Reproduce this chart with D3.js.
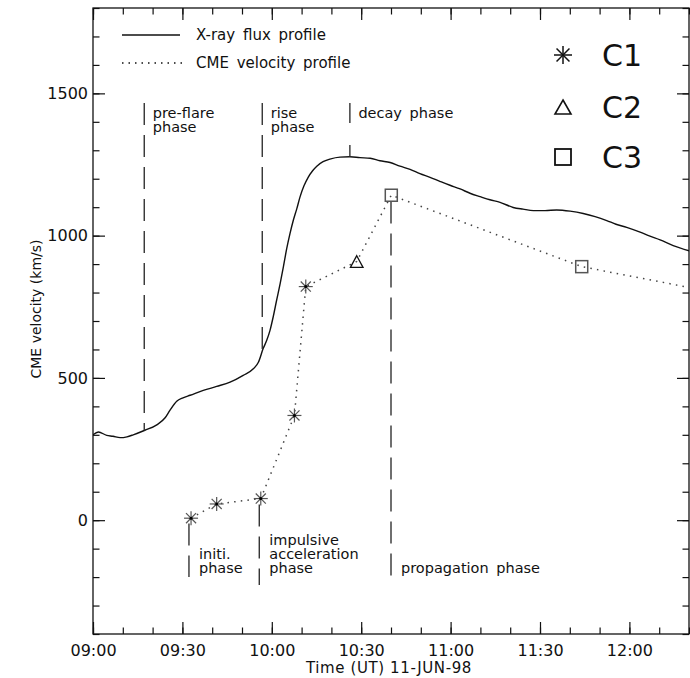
<!DOCTYPE html>
<html>
<head>
<meta charset="utf-8">
<script src="https://cdn.jsdelivr.net/npm/d3@7"></script>
<style>
  html, body { margin: 0; padding: 0; background: #fff; }
  svg { display: block; font-family: "DejaVu Sans", sans-serif; }
</style>
</head>
<body>
<svg id="chart" width="690" height="678"></svg>
<script>
// ---- data ----------------------------------------------------------------
// GOES X-ray flux profile, scaled onto the velocity axis (minutes after 09:00 UT)
const fluxMinutes = [0, 1.8, 4.6, 6.7, 9.1, 11.4, 13.5, 17.4, 21.4, 24.2,
  25.8, 28.1, 30.2, 32.6, 37.0, 41.5, 46.0, 50.4, 53.8, 55.5,
  57.1, 58.3, 59.4, 60.5, 61.6, 62.8, 63.9, 65.0, 66.1, 67.2,
  68.4, 69.5, 70.8, 72.2, 73.7, 75.1, 77.2, 79.5, 82.9, 86.2,
  89.6, 93.0, 96.3, 99.7, 103.0, 106.4, 109.7, 113.1, 116.4, 119.8,
  123.2, 126.5, 129.9, 133.2, 136.6, 141.0, 144.3, 147.8, 151.7, 155.6,
  160.1, 164.5, 168.5, 172.4, 175.5, 179.1, 183.6, 186.9, 190.3, 194.7, 200.2];
const fluxValues = [300, 310, 298, 295, 290, 293, 300, 316, 335, 360,
  386, 418, 430, 439, 456, 470, 485, 509, 532, 555,
  603, 632, 667, 716, 772, 831, 891, 954, 1007, 1053,
  1095, 1137, 1175, 1205, 1228, 1244, 1260, 1269, 1276, 1277,
  1274, 1272, 1263, 1257, 1244, 1233, 1218, 1205, 1191, 1177,
  1164, 1149, 1137, 1126, 1117, 1099, 1093, 1088, 1088, 1090,
  1086, 1078, 1067, 1053, 1040, 1029, 1012, 998, 985, 965, 946];

// CME front velocities (km/s) measured in C1, C2 and C3
const c1Times  = ["09:32:54", "09:41:30", "09:56:18", "10:07:36", "10:11:24"];
const c1Values = [7, 57, 76, 368, 821];
const c2Times  = ["10:28:30"];
const c2Values = [909];
const c3Times  = ["10:40:06", "11:44:00"];
const c3Values = [1142, 891];
// the velocity profile runs on to the end of the time window
const profileEndTime  = "12:20:00";
const profileEndValue = 818;

// axes
const timeStart = "09:00:00";
const timeEnd   = "12:20:00";
const yDomain   = [-400, 1800];
const yMajor    = [0, 500, 1000, 1500];

// flare phases (above the curve) and CME phases (below)
const flarePhaseTimes  = ["09:17:12", "09:56:48", "10:26:12"];
const flarePhaseLabels = [["pre-flare", "phase"], ["rise", "phase"], ["decay phase"]];
const cmePhaseTimes    = ["09:32:12", "09:55:48", "10:40:00"];
const cmePhaseLabels   = [["initi.", "phase"], ["impulsive", "acceleration", "phase"], ["propagation phase"]];
const cmePhaseFrom     = [-12, 55, 1120];
const cmePhaseTo       = [-200, -228, -225];
const flarePhaseTop    = 1466;

const legendLines   = ["X-ray flux profile", "CME velocity profile"];
const legendSymbols = ["C1", "C2", "C3"];

// ---- setup ---------------------------------------------------------------
const svg = d3.select("#chart");
const W = 690, H = 678;
const m = { left: 93, right: 1, top: 8, bottom: 44 };
const x0 = m.left, x1 = W - m.right, y0 = m.top, y1 = H - m.bottom;

const parse = d3.utcParse("%Y-%m-%d %H:%M:%S");
const t = s => parse("1998-06-11 " + s);
const base = t(timeStart);
const fromMinutes = mm => new Date(base.getTime() + mm * 60000);

const x = d3.scaleUtc().domain([t(timeStart), t(timeEnd)]).range([x0, x1]);
const y = d3.scaleLinear().domain(yDomain).range([y1, y0]);

const ink = "#111";
const fontTick = 16, fontText = 14.5, lineGap = 14;

svg.append("defs").append("clipPath").attr("id", "plotclip")
  .append("rect").attr("x", x0).attr("y", y0).attr("width", x1 - x0).attr("height", y1 - y0);

// ---- axes (ticks point inward on all four sides) -------------------------
const majorT = d3.utcMinute.every(30), minorT = d3.utcMinute.every(10);
const fmt = d3.utcFormat("%H:%M");
const TL = 12, TS = 6.5;

function styleAxis(g) {
  g.select(".domain").remove();
  g.selectAll("line").attr("stroke", ink).attr("stroke-width", 1.2);
  g.selectAll("text").attr("fill", ink).attr("font-size", fontTick)
    .attr("font-family", '"DejaVu Sans", sans-serif');
}

const minorTimes = minorT.range(t(timeStart), new Date(t(timeEnd).getTime() + 1));
const minorVals = d3.range(yDomain[0], yDomain[1] + 1, 100);

// bottom
svg.append("g").attr("transform", `translate(0,${y1})`)
  .call(d3.axisBottom(x).ticks(majorT).tickFormat(fmt).tickSize(-TL).tickPadding(11))
  .call(styleAxis);
svg.append("g").attr("transform", `translate(0,${y1})`)
  .call(d3.axisBottom(x).tickValues(minorTimes).tickFormat("").tickSize(-TS))
  .call(styleAxis);
// top
svg.append("g").attr("transform", `translate(0,${y0})`)
  .call(d3.axisTop(x).ticks(majorT).tickFormat("").tickSize(-TL)).call(styleAxis);
svg.append("g").attr("transform", `translate(0,${y0})`)
  .call(d3.axisTop(x).tickValues(minorTimes).tickFormat("").tickSize(-TS)).call(styleAxis);
// left
svg.append("g").attr("transform", `translate(${x0},0)`)
  .call(d3.axisLeft(y).tickValues(yMajor).tickFormat(d3.format("d")).tickSize(-TL).tickPadding(5))
  .call(styleAxis);
svg.append("g").attr("transform", `translate(${x0},0)`)
  .call(d3.axisLeft(y).tickValues(minorVals).tickFormat("").tickSize(-TS)).call(styleAxis);
// right
svg.append("g").attr("transform", `translate(${x1},0)`)
  .call(d3.axisRight(y).tickValues(yMajor).tickFormat("").tickSize(-TL)).call(styleAxis);
svg.append("g").attr("transform", `translate(${x1},0)`)
  .call(d3.axisRight(y).tickValues(minorVals).tickFormat("").tickSize(-TS)).call(styleAxis);

// frame
svg.append("rect").attr("x", x0).attr("y", y0).attr("width", x1 - x0).attr("height", y1 - y0)
  .attr("fill", "none").attr("stroke", ink).attr("stroke-width", 1.3);

// axis titles
svg.append("text").attr("x", (x0 + x1) / 2 - 2).attr("y", 673).attr("text-anchor", "middle")
  .attr("font-size", 15).attr("letter-spacing", 0.6).attr("fill", ink).text("Time (UT) 11-JUN-98");
svg.append("text").attr("transform", `translate(41,${(y0 + y1) / 2 - 12}) rotate(-90)`)
  .attr("text-anchor", "middle").attr("font-size", 14).attr("fill", ink)
  .text("CME velocity (km/s)");

// ---- X-ray flux curve ----------------------------------------------------
const flux = fluxMinutes.map((mm, i) => ({ t: fromMinutes(mm), v: fluxValues[i] }));
const plot = svg.append("g").attr("clip-path", "url(#plotclip)");
plot.append("path").datum(flux)
  .attr("fill", "none").attr("stroke", ink).attr("stroke-width", 1.4)
  .attr("d", d3.line().x(d => x(d.t)).y(d => y(d.v)).curve(d3.curveMonotoneX));

function fluxAt(time) {
  const i = d3.bisector(d => d.t).left(flux, time);
  if (i <= 0) return flux[0].v;
  if (i >= flux.length) return flux[flux.length - 1].v;
  const a = flux[i - 1], b = flux[i];
  const f = (time - a.t) / (b.t - a.t);
  return a.v + f * (b.v - a.v);
}

// ---- velocity profile ----------------------------------------------------
const c1 = c1Times.map((s, i) => ({ t: t(s), v: c1Values[i] }));
const c2 = c2Times.map((s, i) => ({ t: t(s), v: c2Values[i] }));
const c3 = c3Times.map((s, i) => ({ t: t(s), v: c3Values[i] }));
const profile = [...c1, ...c2, ...c3, { t: t(profileEndTime), v: profileEndValue }];

plot.append("path").datum(profile)
  .attr("fill", "none").attr("stroke", "#444").attr("stroke-width", 1.5)
  .attr("stroke-dasharray", "1.5,5.2")
  .attr("d", d3.line().x(d => x(d.t)).y(d => y(d.v)));

// ---- phase boundaries ----------------------------------------------------
const dashCol = "#333";
flarePhaseTimes.forEach((s, i) => {
  const tt = t(s), xx = x(tt);
  svg.append("line").attr("x1", xx).attr("x2", xx)
    .attr("y1", y(flarePhaseTop)).attr("y2", y(fluxAt(tt)))
    .attr("stroke", dashCol).attr("stroke-width", 1.4)
    .attr("stroke-dasharray", i === 2 ? "20,22" : "22,10");
  const txt = svg.append("text").attr("font-size", fontText).attr("fill", ink)
    .attr("word-spacing", 3);
  flarePhaseLabels[i].forEach((ln, k) => {
    txt.append("tspan").attr("x", xx + 8.5).attr("y", y(flarePhaseTop) + 15 + k * lineGap).text(ln);
  });
});

cmePhaseTimes.forEach((s, i) => {
  const xx = x(t(s));
  svg.append("line").attr("x1", xx).attr("x2", xx)
    .attr("y1", y(cmePhaseFrom[i])).attr("y2", y(cmePhaseTo[i]))
    .attr("stroke", dashCol).attr("stroke-width", 1.4)
    .attr("stroke-dasharray", "22,10");
  const lines = cmePhaseLabels[i];
  const lastBase = 572.5;
  const txt = svg.append("text").attr("font-size", fontText).attr("fill", ink)
    .attr("word-spacing", 3);
  lines.forEach((ln, k) => {
    txt.append("tspan").attr("x", xx + 10)
      .attr("y", lastBase - (lines.length - 1 - k) * lineGap).text(ln);
  });
});

// ---- markers -------------------------------------------------------------
function asterisk(g, cx, cy, r, col, w) {
  const a = r * 0.72;
  [[0, -r, 0, r], [-r, 0, r, 0], [-a, -a, a, a], [-a, a, a, -a]].forEach(p => {
    g.append("line").attr("x1", cx + p[0]).attr("y1", cy + p[1])
      .attr("x2", cx + p[2]).attr("y2", cy + p[3])
      .attr("stroke", col).attr("stroke-width", w);
  });
}
function triangle(g, cx, cy, hw, hh, col, w) {
  g.append("path")
    .attr("d", `M${cx},${cy - hh}L${cx + hw},${cy + hh}L${cx - hw},${cy + hh}Z`)
    .attr("fill", "none").attr("stroke", col).attr("stroke-width", w)
    .attr("stroke-linejoin", "miter");
}
function square(g, cx, cy, h, col, w) {
  g.append("rect").attr("x", cx - h).attr("y", cy - h).attr("width", 2 * h).attr("height", 2 * h)
    .attr("fill", "none").attr("stroke", col).attr("stroke-width", w);
}

const mk = svg.append("g");
c1.forEach(d => {
  asterisk(mk, x(d.t), y(d.v), 7, "#555", 1.2);
  mk.append("circle").attr("cx", x(d.t)).attr("cy", y(d.v)).attr("r", 1.5).attr("fill", "#000");
});
c2.forEach(d => triangle(mk, x(d.t), y(d.v), 6.3, 5.8, ink, 1.3));
c3.forEach(d => square(mk, x(d.t), y(d.v), 6, "#555", 1.5));

// ---- legends -------------------------------------------------------------
const lg = svg.append("g");
lg.append("line").attr("x1", 122).attr("x2", 180).attr("y1", 35).attr("y2", 35)
  .attr("stroke", ink).attr("stroke-width", 1.3);
lg.append("line").attr("x1", 122).attr("x2", 182).attr("y1", 63).attr("y2", 63)
  .attr("stroke", ink).attr("stroke-width", 1.4).attr("stroke-dasharray", "1.5,5");
legendLines.forEach((s, i) => {
  lg.append("text").attr("x", 196).attr("y", 40 + i * 28).attr("font-size", 15)
    .attr("fill", ink).attr("word-spacing", 3).text(s);
});

const sy = [55, 107, 157];
asterisk(lg, 563, sy[0], 9, ink, 1.5);
triangle(lg, 563, sy[1], 8, 7, ink, 1.6);
square(lg, 563, sy[2], 8, ink, 1.8);
legendSymbols.forEach((s, i) => {
  lg.append("text").attr("x", 602).attr("y", sy[i] + 11).attr("font-size", 30)
    .attr("fill", ink).text(s);
});
</script>
</body>
</html>
